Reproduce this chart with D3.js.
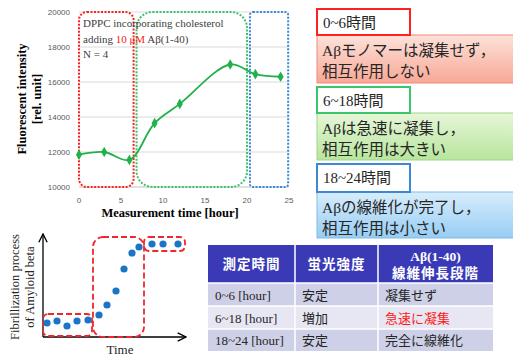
<!DOCTYPE html>
<html>
<head>
<meta charset="utf-8">
<script src="https://cdn.jsdelivr.net/npm/d3@7"></script>
<style>
  body { margin: 0; background: #fff; }
  svg { display: block; }
</style>
</head>
<body>
<div id="chart"></div>
<script>
// ---- data ----
const hours = [0, 3, 6, 9, 12, 18, 21, 24];
const intensity = [11850, 12000, 11550, 13650, 14750, 17000, 16450, 16300];
const yTicks = [10000, 12000, 14000, 16000, 18000, 20000];
const xTicks = [0, 5, 10, 15, 20, 25];

// phase windows on the measurement chart (hours)
const phaseStart = [0, 6.85, 20.35];
const phaseEnd = [6.5, 20.0, 24.9];
const phaseColor = ["#ff2020", "#3cc46a", "#3a88d6"];
const phaseName = ["0~6時間", "6~18時間", "18~24時間"];
const phaseText = [
  ["Aβモノマーは凝集せず，", "相互作用しない"],
  ["Aβは急速に凝集し，", "相互作用は大きい"],
  ["Aβの線維化が完了し，", "相互作用は小さい"]
];

// schematic sigmoid (arbitrary units)
const sigTime = [0.4, 1.4, 2.4, 3.4, 4.5, 5.6, 6.4, 7.3, 8.1, 8.9, 9.6, 10.9, 12.0, 13.5];
const sigLevel = [1.4, 1.6, 1.1, 1.6, 1.7, 2.2, 3.2, 4.6, 6.8, 8.4, 9.0, 9.3, 9.3, 9.3];
const sigBoxT0 = [0, 5.0, 10.1];
const sigBoxT1 = [4.9, 10.1, 14.2];
const sigBoxV0 = [0.1, 0, 8.6];
const sigBoxV1 = [2.3, 10, 10];

// table
const tableHead = ["測定時間", "蛍光強度", "Aβ(1-40)|線維伸長段階"];
const tableTime = ["0~6 [hour]", "6~18 [hour]", "18~24 [hour]"];
const tableIntensity = ["安定", "増加", "安定"];
const tableStage = ["凝集せず", "急速に凝集", "完全に線維化"];

const serif = "'Liberation Serif', 'Noto Sans CJK JP', serif";
const sans = "'Liberation Sans', Arial, sans-serif";
const jp = "'Liberation Serif', 'Noto Sans CJK JP', sans-serif";

const svg = d3.select("#chart").append("svg")
  .attr("width", 513).attr("height", 356);

// ============ main chart ============
const x = d3.scaleLinear().domain([0, 25]).range([79, 289]);
const y = d3.scaleLinear().domain([10000, 20000]).range([187, 12]);

const g = svg.append("g");

g.selectAll(".grid").data(yTicks).enter().append("line")
  .attr("x1", x(0)).attr("x2", x(25))
  .attr("y1", d => y(d)).attr("y2", d => y(d))
  .attr("stroke", d => d == 10000 ? "#bfbfbf" : "#d9d9d9").attr("stroke-width", 1);

g.selectAll(".ylab").data(yTicks).enter().append("text")
  .attr("x", 70).attr("y", d => y(d) + 3)
  .attr("text-anchor", "end")
  .style("font-family", sans).style("font-size", "8px").style("fill", "#595959")
  .text(d => d);

g.selectAll(".xlab").data(xTicks).enter().append("text")
  .attr("x", d => x(d)).attr("y", 203)
  .attr("text-anchor", "middle")
  .style("font-family", sans).style("font-size", "8px").style("fill", "#595959")
  .text(d => d);

// phase boxes (dotted)
const radii = [8, 16, 3];
phaseStart.forEach((s, i) => {
  g.append("rect")
    .attr("x", x(s)).attr("y", y(20000))
    .attr("width", x(phaseEnd[i]) - x(s)).attr("height", y(10000) - y(20000))
    .attr("rx", radii[i]).attr("ry", radii[i])
    .attr("fill", "none").attr("stroke", phaseColor[i])
    .attr("stroke-width", 2).attr("stroke-dasharray", "2,1.5");
});

// line
const pts = hours.map((h, i) => [h, intensity[i]]);
g.append("path").datum(pts)
  .attr("d", d3.line().x(d => x(d[0])).y(d => y(d[1])).curve(d3.curveCatmullRom.alpha(0.5)))
  .attr("fill", "none").attr("stroke", "#1fb24a").attr("stroke-width", 1.8);

g.selectAll(".pt").data(pts).enter().append("path")
  .attr("transform", d => `translate(${x(d[0])},${y(d[1])})`)
  .attr("d", d3.symbol().type(d3.symbolDiamond).size(32))
  .attr("fill", "#1fb24a");

// annotation
const ann = g.append("g").style("font-family", serif).style("font-size", "11px").style("fill", "#404040");
ann.append("text").attr("x", 83).attr("y", 27).text("DPPC incorporating cholesterol");
const l2 = ann.append("text").attr("x", 83).attr("y", 43);
l2.append("tspan").text("adding ");
l2.append("tspan").style("fill", "#ff2020").text("10 μM");
l2.append("tspan").text(" Aβ(1-40)");
ann.append("text").attr("x", 83).attr("y", 58).text("N = 4");

// axis titles
svg.append("text")
  .attr("x", 170).attr("y", 217).attr("text-anchor", "middle")
  .style("font-family", serif).style("font-size", "12.5px").style("font-weight", "bold")
  .text("Measurement time [hour]");
const yt = svg.append("text")
  .attr("transform", "translate(26,99) rotate(-90)").attr("text-anchor", "middle")
  .style("font-family", serif).style("font-size", "12.5px").style("font-weight", "bold");
yt.append("tspan").attr("x", 0).attr("y", 0).text("Fluorescent intensity");
yt.append("tspan").attr("x", 0).attr("y", 15).text("[rel. unit]");

// ============ right boxes ============
const defs = svg.append("defs");
const grads = [["#fde2da", "#f7a896"], ["#e6f6d8", "#b8e59e"], ["#d8edfc", "#97cdf3"]];
grads.forEach((c, i) => {
  const gr = defs.append("linearGradient").attr("id", "bg" + i)
    .attr("x1", 0).attr("y1", 0).attr("x2", 0).attr("y2", 1);
  gr.append("stop").attr("offset", "0%").attr("stop-color", c[0]);
  gr.append("stop").attr("offset", "100%").attr("stop-color", c[1]);
});
const headTop = [9, 87, 164];
const headBot = [35, 113, 192];
const bodyBot = [83, 160, 238];
const bodyBorder = ["#f08a7a", "#9dd889", "#7fbde8"];

phaseName.forEach((nm, i) => {
  const b = svg.append("g");
  b.append("rect")
    .attr("x", 317).attr("y", headBot[i]).attr("width", 200).attr("height", bodyBot[i] - headBot[i])
    .attr("fill", `url(#bg${i})`).attr("stroke", bodyBorder[i]).attr("stroke-width", 1);
  b.append("rect")
    .attr("x", 317).attr("y", headTop[i]).attr("width", 93).attr("height", headBot[i] - headTop[i])
    .attr("fill", "#fff").attr("stroke", phaseColor[i]).attr("stroke-width", 2);
  b.append("text").attr("x", 323).attr("y", headTop[i] + 19)
    .style("font-family", jp).style("font-size", "15px").style("fill", "#262626")
    .text(nm);
  phaseText[i].forEach((t, j) => {
    b.append("text").attr("x", 322).attr("y", headBot[i] + 21 + j * 21)
      .style("font-family", jp).style("font-size", "15.5px").style("fill", "#262626")
      .text(t);
  });
});

// ============ sigmoid schematic ============
const sx = d3.scaleLinear().domain([0, 14.2]).range([43, 185]);
const sy = d3.scaleLinear().domain([0, 10]).range([337, 237]);

defs.append("marker").attr("id", "arr").attr("viewBox", "0 0 10 10")
  .attr("refX", 9).attr("refY", 5).attr("markerWidth", 8).attr("markerHeight", 8)
  .attr("orient", "auto-start-reverse")
  .append("path").attr("d", "M1,1 L9,5 L1,9").attr("fill", "none").attr("stroke", "#000").attr("stroke-width", 1.3);

svg.append("line").attr("x1", sx(0)).attr("y1", sy(0)).attr("x2", sx(0)).attr("y2", 234)
  .attr("stroke", "#000").attr("stroke-width", 1.3).attr("marker-end", "url(#arr)");
svg.append("line").attr("x1", sx(0)).attr("y1", sy(0)).attr("x2", 186).attr("y2", sy(0))
  .attr("stroke", "#000").attr("stroke-width", 1.3).attr("marker-end", "url(#arr)");

const sRad = [5, 10, 5];
sigBoxT0.forEach((t0, i) => {
  svg.append("rect")
    .attr("x", sx(t0)).attr("y", sy(sigBoxV1[i]))
    .attr("width", sx(sigBoxT1[i]) - sx(t0)).attr("height", sy(sigBoxV0[i]) - sy(sigBoxV1[i]))
    .attr("rx", sRad[i]).attr("ry", sRad[i])
    .attr("fill", "none").attr("stroke", "#f0262e").attr("stroke-width", 1.8)
    .attr("stroke-dasharray", "6,3");
});

svg.selectAll(".sdot").data(sigTime).enter().append("circle")
  .attr("cx", d => sx(d)).attr("cy", (d, i) => sy(sigLevel[i]))
  .attr("r", 3.6).attr("fill", "#1b75c7");

svg.append("text").attr("x", 120).attr("y", 354).attr("text-anchor", "middle")
  .style("font-family", serif).style("font-size", "13px").style("fill", "#262626")
  .text("Time");
const syt = svg.append("text")
  .attr("transform", "translate(19,287) rotate(-90)").attr("text-anchor", "middle")
  .style("font-family", serif).style("font-size", "12.5px").style("fill", "#262626");
syt.append("tspan").attr("x", 0).attr("y", 0).text("Fibrillization process");
syt.append("tspan").attr("x", 0).attr("y", 15).text("of Amyloid beta");

// ============ table ============
const colX = [208, 295, 378, 493];
const rowY = [245, 283, 306, 329, 351];
const rowFill = ["#cdd0e7", "#e6e7f2", "#cdd0e7"];

svg.append("rect").attr("x", colX[0]).attr("y", rowY[0])
  .attr("width", colX[3] - colX[0]).attr("height", rowY[1] - rowY[0])
  .attr("fill", "#3a3ab6");
[0, 1, 2].forEach(r => {
  svg.append("rect").attr("x", colX[0]).attr("y", rowY[r + 1])
    .attr("width", colX[3] - colX[0]).attr("height", rowY[r + 2] - rowY[r + 1])
    .attr("fill", rowFill[r]);
});
// white cell borders
rowY.slice(1, 4).forEach(yy => {
  svg.append("line").attr("x1", colX[0]).attr("x2", colX[3]).attr("y1", yy).attr("y2", yy)
    .attr("stroke", "#fff").attr("stroke-width", 1.5);
});
colX.slice(1, 3).forEach(xx => {
  svg.append("line").attr("x1", xx).attr("x2", xx).attr("y1", rowY[0]).attr("y2", rowY[4])
    .attr("stroke", "#fff").attr("stroke-width", 1.5);
});

tableHead.forEach((h, c) => {
  const cx = (colX[c] + colX[c + 1]) / 2;
  const parts = h.split("|");
  parts.forEach((p, k) => {
    svg.append("text").attr("x", cx)
      .attr("y", parts.length == 1 ? 269 : 261 + k * 17)
      .attr("text-anchor", "middle")
      .style("font-family", jp).style("font-size", "13.5px").style("font-weight", "bold")
      .style("fill", "#fff").style("letter-spacing", parts.length == 1 || k == 1 ? "1px" : "0")
      .text(p);
  });
});

[tableTime, tableIntensity, tableStage].forEach((col, c) => {
  col.forEach((t, r) => {
    svg.append("text").attr("x", colX[c] + 7).attr("y", (rowY[r + 1] + rowY[r + 2]) / 2 + 5)
      .style("font-family", jp).style("font-size", "13px")
      .style("fill", c == 2 && r == 1 ? "#ff1a1a" : "#262626")
      .text(t);
  });
});
</script>
</body>
</html>
